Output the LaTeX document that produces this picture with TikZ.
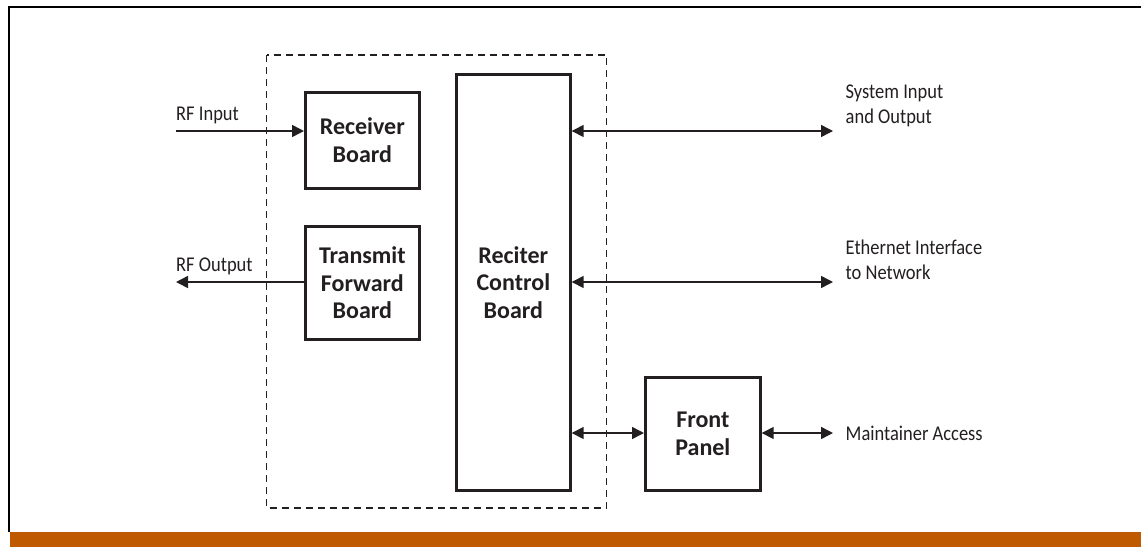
\documentclass[tikz,border=0pt]{standalone}
\usepackage{fontspec}
\setmainfont{Carlito}
\newfontfamily\lblfont[FakeStretch=0.88]{Carlito}
\usetikzlibrary{arrows.meta}
\definecolor{barorange}{HTML}{C05A00}
\definecolor{ink}{HTML}{231F20}
\begin{document}
\begin{tikzpicture}[x=1pt,y=-1pt,
  blockbox/.style={draw=ink,line width=2.7pt,inner sep=0pt,font=\fontsize{24}{27.5}\selectfont\bfseries,text=ink,align=center},
  lbl/.style={font=\lblfont\fontsize{21}{25}\selectfont,text=ink,align=left,inner sep=0pt},
  conn/.style={draw=ink,line width=1.5pt},
  tip/.style={-{Triangle[length=12pt,width=12pt]}},
  tips/.style={{Triangle[length=12pt,width=12pt]}-{Triangle[length=12pt,width=12pt]}}]
\useasboundingbox (0,0) rectangle (1141,547);
% frame
\draw[line width=2pt,black] (1141,7) -- (8.5,7) -- (8.5,532);
\fill[barorange] (9.5,532) rectangle (1141,547);
% dashed enclosure
\draw[ink,line width=1.3pt,dash pattern=on 7pt off 5pt] (266.5,55) rectangle (606.5,508);
% blocks
\node[blockbox,minimum width=114pt,minimum height=96pt,anchor=north west] (rx) at (304,91) {Receiver\\Board};
\node[blockbox,minimum width=114pt,minimum height=113pt,anchor=north west] (tx) at (304,225) {Transmit\\Forward\\Board};
\node[blockbox,minimum width=114pt,minimum height=416pt,anchor=north west] (rc) at (455,73) {Reciter\\Control\\Board};
\node[blockbox,minimum width=115pt,minimum height=113pt,anchor=north west] (fp) at (644,376) {Front\\Panel};
% free ends
\coordinate (rfin) at (176,131);
\coordinate (rfout) at (176,282);
\coordinate (sio) at (833,131);
\coordinate (eth) at (833,282);
\coordinate (ma) at (833,433);
% connectors
\draw[conn,tip] (rfin) -- (rx.west |- rfin);
\draw[conn,tip] (tx.west |- rfout) -- (rfout);
\draw[conn,tips] (rc.east |- sio) -- (sio);
\draw[conn,tips] (rc.east |- eth) -- (eth);
\draw[conn,tips] (rc.east |- ma) -- (fp.west |- ma);
\draw[conn,tips] (fp.east |- ma) -- (ma);
% labels
\node[lbl,anchor=base west] (l1) at (176,120) {RF Input};
\node[lbl,anchor=base west] (l2) at (176,271.5) {RF Output};
\node[lbl,anchor=base west] (l3) at (845.5,123.5) {System Input\\and Output};
\node[lbl,anchor=base west] (l4) at (845.5,279) {Ethernet Interface\\to Network};
\node[lbl,anchor=base west] (l5) at (845.5,440) {Maintainer Access};
\end{tikzpicture}
\end{document}
